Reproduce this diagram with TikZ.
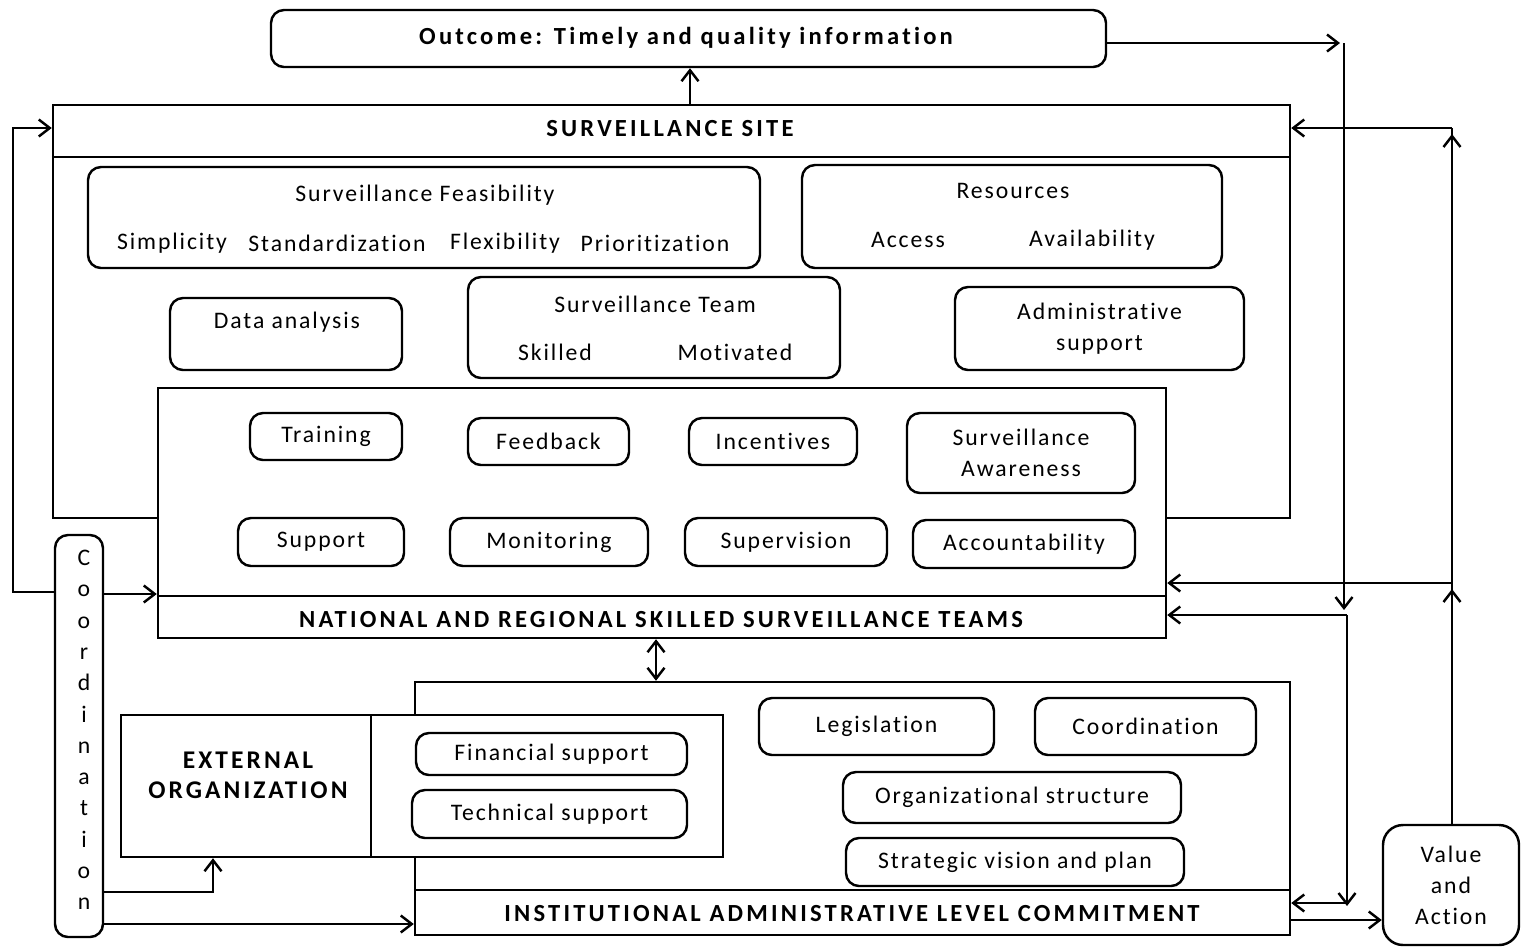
\documentclass[tikz,border=0pt]{standalone}
\usepackage{fontspec}
\setmainfont{Carlito}
\newfontfamily\regf[LetterSpace=8,Ligatures=NoCommon]{Carlito}
\newfontfamily\outf[LetterSpace=13,Ligatures=NoCommon]{Carlito Bold}
\newfontfamily\hdf[LetterSpace=13,Ligatures=NoCommon]{Carlito Bold}
\newfontfamily\extf[LetterSpace=12,Ligatures=NoCommon]{Carlito Bold}
\usetikzlibrary{arrows.meta}
\newcommand\pxu{0.02cm}
\tikzset{
  lw/.style={line width=1.4pt},
  rbox/.style={draw, lw, rounded corners=0.26cm, inner sep=0pt},
  sbox/.style={draw, lw, inner sep=0pt},
  txt/.style={font=\regf\fontsize{13.5}{17.6}\selectfont, inner sep=0pt, align=center},
  hdr/.style={font=\hdf\fontsize{14}{16}\selectfont, inner sep=0pt},
  arr/.style={lw, -{Straight Barb[length=0.22cm,width=0.34cm,line width=1.4pt]}},
  arrb/.style={lw, {Straight Barb[length=0.22cm,width=0.34cm,line width=1.4pt]}-{Straight Barb[length=0.22cm,width=0.34cm,line width=1.4pt]}}
}
\begin{document}
\begin{tikzpicture}[x=0.02cm,y=-0.02cm]
\useasboundingbox (0,0) rectangle (1522,948);

% Outcome
\node[rbox, minimum width={835*\pxu}, minimum height={57*\pxu}] (out) at (688.5,38.5) {};
\node[font=\outf\fontsize{14}{16}\selectfont, inner sep=0pt] (outt) at (686,38) {Outcome: Timely and quality information};

% Surveillance site
\node[sbox, minimum width={1237*\pxu}, minimum height={413*\pxu}] (ss) at (671.5,311.5) {};
\draw[lw] (ss.west |- 0,157) -- (ss.east |- 0,157);
\node[hdr] (sst) at (670,129) {SURVEILLANCE SITE};

% Feasibility
\node[rbox, minimum width={672*\pxu}, minimum height={101*\pxu}] (feas) at (424,217.5) {};
\node[txt] (feast) at (425,195) {Surveillance Feasibility};
\node[txt] (simp) at (172,243) {Simplicity};
\node[txt] (stan) at (337,243) {Standardization};
\node[txt] (flex) at (505,243) {Flexibility};
\node[txt] (prio) at (655,243) {Prioritization};

% Resources
\node[rbox, minimum width={420*\pxu}, minimum height={103*\pxu}] (res) at (1012,216.5) {};
\node[txt] (rest) at (1013,191) {Resources};
\node[txt] (acc) at (908,240) {Access};
\node[txt] (avail) at (1092,240) {Availability};

% Data analysis
\node[rbox, minimum width={232*\pxu}, minimum height={72*\pxu}] (da) at (286,334) {};
\node[txt] (dat) at (287,322) {Data analysis};

% Team
\node[rbox, minimum width={372*\pxu}, minimum height={101*\pxu}] (team) at (654,327.5) {};
\node[txt] (teamt) at (655,304) {Surveillance Team};
\node[txt] (skil) at (555,352) {Skilled};
\node[txt] (moti) at (735,352) {Motivated};

% Admin
\node[rbox, minimum width={289*\pxu}, minimum height={83*\pxu}, txt] (adm) at (1099.5,328.5) {Administrative\\support};

% NRST
\node[sbox, fill=white, minimum width={1008*\pxu}, minimum height={250*\pxu}] (nrst) at (662,513) {};
\draw[lw] (nrst.west |- 0,596) -- (nrst.east |- 0,596);
\node[hdr] (nrstt) at (661,620) {NATIONAL AND REGIONAL SKILLED SURVEILLANCE TEAMS};

\node[rbox, minimum width={152*\pxu}, minimum height={47*\pxu}, txt] (trai) at (326,436.5) {Training};
\node[rbox, minimum width={161*\pxu}, minimum height={47*\pxu}, txt] (feed) at (548.5,441.5) {Feedback};
\node[rbox, minimum width={168*\pxu}, minimum height={47*\pxu}, txt] (ince) at (773,441.5) {Incentives};
\node[rbox, minimum width={228*\pxu}, minimum height={80*\pxu}, txt] (awar) at (1021,453) {Surveillance\\Awareness};
\node[rbox, minimum width={166*\pxu}, minimum height={48*\pxu}, txt] (supp) at (321,542) {Support};
\node[rbox, minimum width={198*\pxu}, minimum height={48*\pxu}, txt] (moni) at (549,542) {Monitoring};
\node[rbox, minimum width={202*\pxu}, minimum height={48*\pxu}, txt] (supe) at (786,542) {Supervision};
\node[rbox, minimum width={222*\pxu}, minimum height={48*\pxu}, txt] (acco) at (1024,544) {Accountability};

% ILAC
\node[sbox, minimum width={875*\pxu}, minimum height={253*\pxu}] (ilac) at (852.5,808.5) {};
\draw[lw] (ilac.west |- 0,890) -- (ilac.east |- 0,890);
\node[hdr] (ilact) at (852,914) {INSTITUTIONAL ADMINISTRATIVE LEVEL COMMITMENT};

% External organization
\node[sbox, fill=white, minimum width={602*\pxu}, minimum height={142*\pxu}] (ext) at (422,786) {};
\draw[lw] (371,715) -- (371,857);
\node[font=\extf\fontsize{14.5}{17}\selectfont, inner sep=0pt, align=center] (extt) at (248,775) {EXTERNAL\\ORGANIZATION};
\node[rbox, minimum width={271*\pxu}, minimum height={42*\pxu}, txt] (fin) at (551.5,754) {Financial support};
\node[rbox, minimum width={275*\pxu}, minimum height={48*\pxu}, txt] (tech) at (549.5,814) {Technical support};

\node[rbox, minimum width={235*\pxu}, minimum height={57*\pxu}, txt] (legi) at (876.5,726.5) {Legislation};
\node[rbox, minimum width={221*\pxu}, minimum height={57*\pxu}, txt] (coor) at (1145.5,726.5) {Coordination};
\node[rbox, minimum width={338*\pxu}, minimum height={51*\pxu}, txt] (orgs) at (1012,797.5) {Organizational structure};
\node[rbox, minimum width={338*\pxu}, minimum height={48*\pxu}, txt] (stra) at (1015,862) {Strategic vision and plan};

% Value and Action
\node[draw, lw, rounded corners=0.4cm, minimum width={136*\pxu}, minimum height={120*\pxu}, txt] (va) at (1451,885) {Value\\and\\Action};

% Coordination vertical
\node[rbox, minimum width={48*\pxu}, minimum height={402*\pxu}] (cv) at (79,736) {};
\node[font=\regf\fontsize{13.5}{17.8}\selectfont, inner sep=0pt, align=center] (cvt) at (84,730) {C\\o\\o\\r\\d\\i\\n\\a\\t\\i\\o\\n};

% Connectors
\draw[arr] (ss.north -| 690,0) -- (out.south -| 690,0);
\coordinate (c1) at (1344,43);
\coordinate (c2) at (1344,610);
\draw[arr] (out.east |- c1) -- (1340,43);
\draw[arr] (c1) -- (c2);
\coordinate (c3) at (1347,615);
\coordinate (c4) at (1347,906);
\draw[arr] (c3) -- (nrst.east |- c3);
\draw[arr] (c3) -- (c4);
\draw[arr] (1347,903) -- (ilac.east |- 0,903);
\draw[arr] (ilac.east |- 0,920) -- (va.west |- 0,920);
\coordinate (v1) at (1452,583);
\coordinate (v2) at (1452,128);
\draw[arr] (va.north -| v1) -- (1452,589);
\draw[lw] (1452,590) -- (v1);
\draw[arr] (v1) -- (nrst.east |- v1);
\draw[arr] (v1) -- (1452,134);
\draw[lw] (1452,136) -- (v2);
\draw[arr] (v2) -- (ss.east |- v2);

\coordinate (l1) at (13,592);
\coordinate (l2) at (13,128);
\draw[arr] (cv.west |- l1) -- (l1) -- (l2) -- (ss.west |- l2);
\draw[arr] (cv.east |- 0,594) -- (nrst.west |- 0,594);
\coordinate (b1) at (213,892);
\draw[arr] (cv.east |- b1) -- (b1) -- (ext.south -| b1);
\draw[arr] (cv.east |- 0,924) -- (ilac.west |- 0,924);
\draw[arrb] (nrst.south -| 656,0) -- (ilac.north -| 656,0);
\end{tikzpicture}
\end{document}
